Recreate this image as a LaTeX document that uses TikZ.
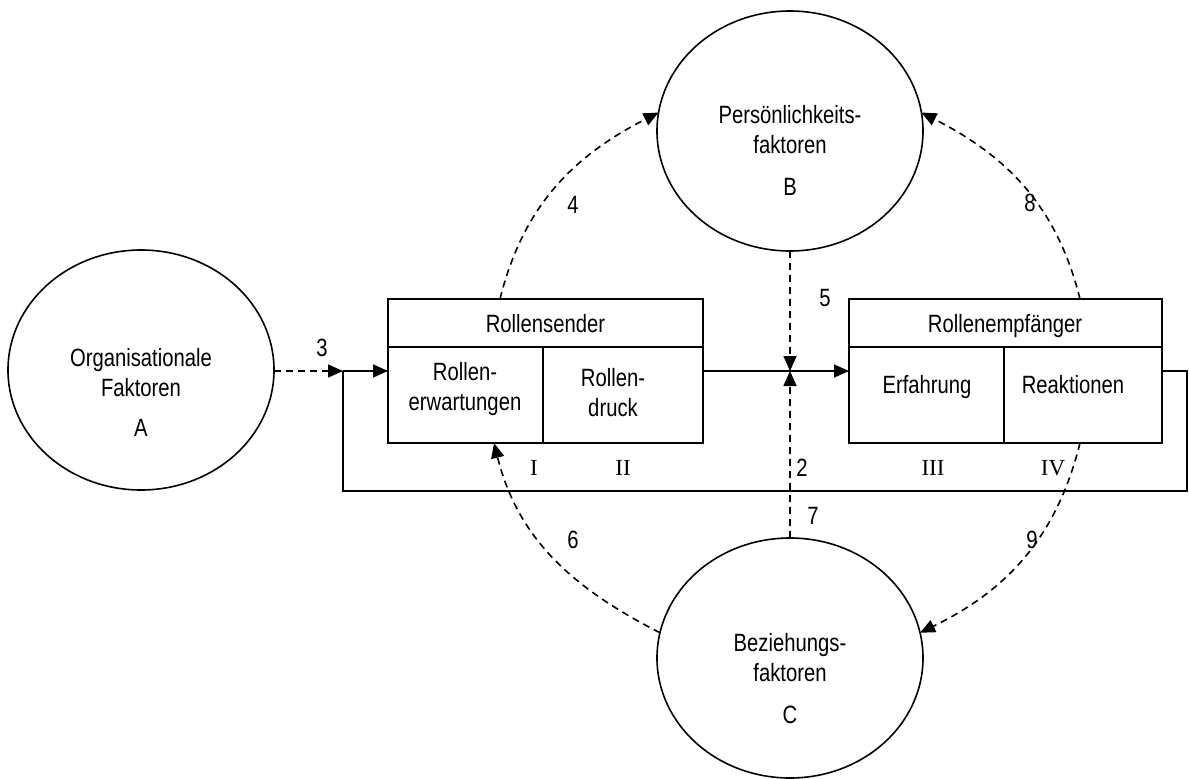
\documentclass[tikz,border=0pt]{standalone}
\usepackage{fontspec}
\setmainfont{Liberation Serif}
\newfontfamily\lsans{Liberation Sans}
\usetikzlibrary{arrows.meta,shapes.geometric,calc}
\begin{document}
\begin{tikzpicture}[x=1pt,y=1pt,
  every node/.style={inner sep=0pt, outer sep=0pt},
  lw/.style={line width=1.6pt},
  circ/.style={draw, lw, ellipse, minimum width=266pt, minimum height=240pt},
  cell/.style={draw, lw, rectangle},
  txt/.style={font=\lsans\fontsize{25}{30}\selectfont, xscale=0.81, align=center},
  rom/.style={font=\fontsize{23}{27}\selectfont},
  dsh/.style={lw, dash pattern=on 7pt off 5pt},
  tip/.style={-{Triangle[length=15pt,width=13pt]}},
]
\useasboundingbox (0,0) rectangle (1189,-779);
% ellipses
\node[circ] (A) at (141,-370) {};
\node[circ] (B) at (790,-131) {};
\node[circ] (C) at (790,-658) {};
\node[txt] (At) at (141,-392) {Organisationale\\Faktoren\\[10pt]A};
\node[txt] (Bt) at (790,-150) {Pers\"onlichkeits-\\faktoren\\[12pt]B};
\node[txt] (Ct) at (790,-679) {Beziehungs-\\faktoren\\[12pt]C};
% boxes
\node[cell, minimum width=315pt, minimum height=48pt] (sh) at (545.5,-323) {};
\node[cell, minimum width=155pt, minimum height=96pt] (s1) at (465.5,-395) {};
\node[cell, minimum width=160pt, minimum height=96pt] (s2) at (623,-395) {};
\node[cell, minimum width=313pt, minimum height=48pt] (rh) at (1005.5,-323) {};
\node[cell, minimum width=155pt, minimum height=96pt] (r1) at (926.5,-395) {};
\node[cell, minimum width=158pt, minimum height=96pt] (r2) at (1083,-395) {};
\node[txt] (shT) at (545.5,-324) {Rollensender};
\node[txt] (s1T) at (465,-389) {Rollen-\\erwartungen};
\node[txt] (s2T) at (613,-393) {Rollen-\\druck};
\node[txt] (rhT) at (1005,-326) {Rollenempf\"anger};
\node[txt] (r1T) at (927,-387) {Erfahrung};
\node[txt] (r2T) at (1073,-385) {Reaktionen};
% roman numerals
\node[rom] (n1) at (534,-468) {I};
\node[rom] (n2) at (623,-468) {II};
\node[rom] (n3) at (933,-468) {III};
\node[rom] (n4) at (1053,-468) {IV};
% number labels
\node[txt] (l2) at (802,-468) {2};
\node[txt] (l3) at (322,-348) {3};
\node[txt] (l4) at (573,-205) {4};
\node[txt] (l5) at (825,-298) {5};
\node[txt] (l6) at (573,-540) {6};
\node[txt] (l7) at (813,-516) {7};
\node[txt] (l8) at (1030,-203) {8};
\node[txt] (l9) at (1032,-540) {9};
% connectors
\coordinate (in) at (343,-371);
\coordinate (X) at (790,-371);
\coordinate (lr) at (1187,-371);
\coordinate (lb) at (1187,-491);
\coordinate (ll) at (343,-491);
\draw[dsh,tip] (A.east |- in) -- (in);
\draw[lw,tip] (in) -- (in -| s1.west);
\draw[lw] (in -| r2.east) -- (lr) -- (lb) -- (ll) -- (in);
\draw[lw,tip] (in -| s2.east) -- (in -| r1.west);
\draw[dsh,tip] (B.south) -- (X);
\draw[dsh,tip] (C.north) -- (X);
\draw[dsh,tip] ([xshift=112pt]sh.north west) to[out=76,in=207] (B.172);
\draw[dsh,tip] ([xshift=-82pt]rh.north east) to[out=104,in=333] (B.8);
\draw[dsh,tip] (C.169) to[out=153,in=284] ([xshift=106pt]s1.south west);
\draw[dsh,tip] ([xshift=76pt]r2.south west) to[out=256,in=26] (C.11);
\end{tikzpicture}
\end{document}
